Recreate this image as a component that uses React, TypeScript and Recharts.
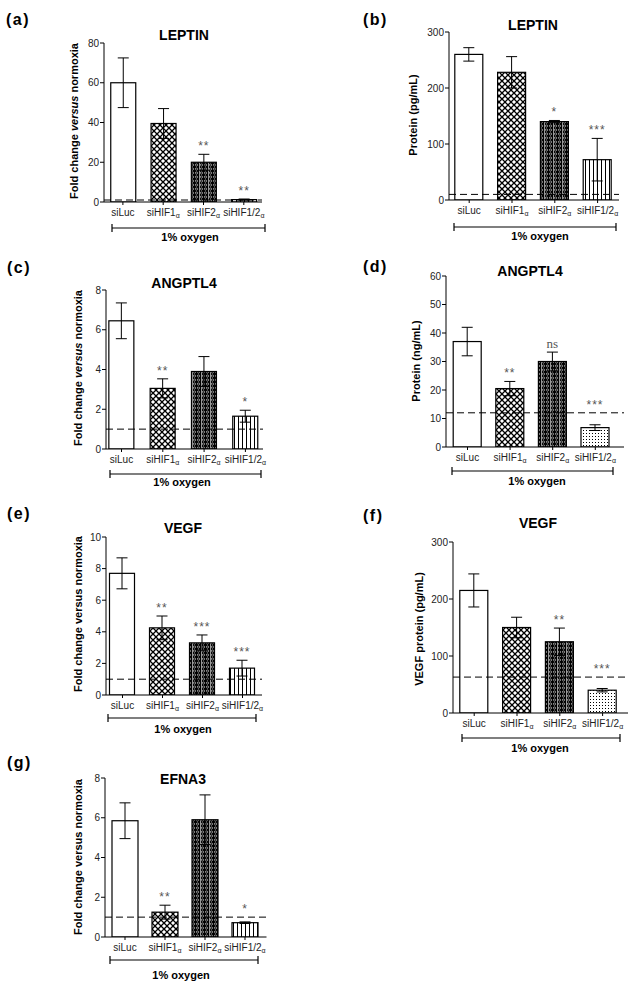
import React from "react";
import { BarChart, Bar, XAxis, YAxis, ErrorBar, ReferenceLine, Cell } from "recharts";

const FONT = "Liberation Sans, Arial, sans-serif";

// categories (alpha is drawn as a subscript after all but siLuc)
const categories = ["siLuc", "siHIF1", "siHIF2", "siHIF1/2"];

// (a) LEPTIN mRNA
const leptinFold = [60, 39.5, 20, 1.2];
const leptinFoldErr = [12.5, 7.5, 4, 0.3];
const leptinFoldSig = ["", "", "**", "**"];

// (b) LEPTIN protein
const leptinProtein = [260, 228, 140, 72];
const leptinProteinErr = [12, 28, 2, 38];
const leptinProteinSig = ["", "", "*", "***"];

// (c) ANGPTL4 mRNA
const angptlFold = [6.45, 3.05, 3.9, 1.65];
const angptlFoldErr = [0.9, 0.48, 0.75, 0.3];
const angptlFoldSig = ["", "**", "", "*"];

// (d) ANGPTL4 protein
const angptlProtein = [37, 20.5, 30, 6.8];
const angptlProteinErr = [5, 2.5, 3.3, 1];
const angptlProteinSig = ["", "**", "ns", "***"];

// (e) VEGF mRNA
const vegfFold = [7.7, 4.25, 3.3, 1.7];
const vegfFoldErr = [0.98, 0.75, 0.5, 0.5];
const vegfFoldSig = ["", "**", "***", "***"];

// (f) VEGF protein
const vegfProtein = [215, 150, 125, 40];
const vegfProteinErr = [29, 18, 24, 3];
const vegfProteinSig = ["", "", "**", "***"];

// (g) EFNA3 mRNA
const efnaFold = [5.85, 1.25, 5.9, 0.72];
const efnaFoldErr = [0.9, 0.35, 1.25, 0.04];
const efnaFoldSig = ["", "**", "", "*"];

const makeRows = (values: number[], errors: number[], sig: string[]) =>
  categories.map((name, i) => ({ pos: i, name, value: values[i], err: errors[i], sig: sig[i] }));

const fillsLines = ["#fff", "url(#cross)", "url(#dense)", "url(#vlines)"];
const fillsDots = ["#fff", "url(#cross)", "url(#dense)", "url(#dots)"];

const panels = [
  { id: "a", rows: makeRows(leptinFold, leptinFoldErr, leptinFoldSig), ref: 1, yMax: 80, yTicks: [0, 20, 40, 60, 80],
    axisX: 104, plotRight: 262, c0: 122.9, step: 40.3, barW: 25, yTop: 43, yBot: 202, fills: fillsLines },
  { id: "b", rows: makeRows(leptinProtein, leptinProteinErr, leptinProteinSig), ref: 10, yMax: 300, yTicks: [0, 100, 200, 300],
    axisX: 449, plotRight: 619, c0: 469.2, step: 42.8, barW: 28, yTop: 32, yBot: 200, fills: fillsLines },
  { id: "c", rows: makeRows(angptlFold, angptlFoldErr, angptlFoldSig), ref: 1, yMax: 8, yTicks: [0, 2, 4, 6, 8],
    axisX: 106, plotRight: 263, c0: 121.5, step: 41.3, barW: 25, yTop: 290, yBot: 449, fills: fillsLines },
  { id: "d", rows: makeRows(angptlProtein, angptlProteinErr, angptlProteinSig), ref: 12, yMax: 60, yTicks: [0, 10, 20, 30, 40, 50, 60],
    axisX: 446, plotRight: 624, c0: 467.5, step: 42.6, barW: 28, yTop: 276, yBot: 447, fills: fillsDots },
  { id: "e", rows: makeRows(vegfFold, vegfFoldErr, vegfFoldSig), ref: 1, yMax: 10, yTicks: [0, 2, 4, 6, 8, 10],
    axisX: 106, plotRight: 262, c0: 122.5, step: 40, barW: 25, yTop: 537, yBot: 695, fills: fillsLines },
  { id: "f", rows: makeRows(vegfProtein, vegfProteinErr, vegfProteinSig), ref: 63, yMax: 300, yTicks: [0, 100, 200, 300],
    axisX: 453, plotRight: 628, c0: 474.2, step: 42.8, barW: 28, yTop: 542, yBot: 713, fills: fillsDots },
  { id: "g", rows: makeRows(efnaFold, efnaFoldErr, efnaFoldSig), ref: 1, yMax: 8, yTicks: [0, 2, 4, 6, 8],
    axisX: 104.5, plotRight: 266, c0: 124.5, step: 40, barW: 26, yTop: 778, yBot: 937, fills: fillsLines },
];

const letters = [
  { t: "(a)", x: 6, y: 25 }, { t: "(b)", x: 363, y: 25 }, { t: "(c)", x: 7, y: 273 },
  { t: "(d)", x: 363, y: 272 }, { t: "(e)", x: 7, y: 519 }, { t: "(f)", x: 363, y: 521 }, { t: "(g)", x: 7, y: 768 },
];

const titles = [
  { t: "LEPTIN", x: 184, y: 40 }, { t: "LEPTIN", x: 533, y: 30 }, { t: "ANGPTL4", x: 184, y: 288 },
  { t: "ANGPTL4", x: 530, y: 276 }, { t: "VEGF", x: 183, y: 533 }, { t: "VEGF", x: 538, y: 528 }, { t: "EFNA3", x: 183, y: 784 },
];

const yLabels = [
  { kind: "fold", italic: true, x: 78, y: 121 },
  { kind: "Protein (pg/mL)", x: 417, y: 115 },
  { kind: "fold", italic: true, x: 82, y: 368 },
  { kind: "Protein (ng/mL)", x: 420, y: 361 },
  { kind: "fold", italic: false, x: 82, y: 614 },
  { kind: "VEGF protein (pg/mL)", x: 423, y: 629 },
  { kind: "fold", italic: false, x: 82, y: 857 },
];

const brackets = [
  { x1: 112, x2: 265, y: 228, cx: 190, ty: 241 },
  { x1: 454, x2: 616, y: 227, cx: 540, ty: 240 },
  { x1: 110, x2: 261, y: 474, cx: 182, ty: 486 },
  { x1: 452, x2: 613, y: 471, cx: 537, ty: 485 },
  { x1: 108, x2: 256, y: 718, cx: 183, ty: 733 },
  { x1: 462, x2: 620, y: 738, cx: 540, ty: 752 },
  { x1: 110, x2: 258, y: 960, cx: 181, ty: 979 },
];

const XTick = (props: any) => {
  const { x, y, payload } = props;
  const label = categories[payload.value];
  if (label === undefined) return null;
  return (
    <text x={x} y={y + 9} textAnchor="middle" fontSize={10} fill="#222" fontFamily={FONT}>
      {label}
      {label !== "siLuc" && (
        <tspan fontSize={7} dy={2}>α</tspan>
      )}
    </text>
  );
};

const makeShape = (refValue: number) => (props: any) => {
  const { x, y, width, height, fill, payload } = props;
  const perUnit = payload.value ? height / payload.value : 0;
  const anchorVal = Math.max(payload.value + payload.err, payload.sig === "" ? 0 : refValue);
  const anchorY = y + height - anchorVal * perUnit;
  const isNs = payload.sig === "ns";
  return (
    <g>
      <rect x={x} y={y} width={width} height={height} fill={fill} stroke="#000" strokeWidth={1.2} />
      {payload.sig && (
        <text
          x={x + width / 2}
          y={anchorY - 4}
          textAnchor="middle"
          fontSize={isNs ? 13 : 12}
          fill="#555"
          fontFamily={isNs ? "Liberation Serif, Times New Roman, serif" : FONT}
          letterSpacing={isNs ? 0 : 1}
        >
          {payload.sig}
        </text>
      )}
    </g>
  );
};

function Panel({ spec }: { spec: any }) {
  const YW = 40;
  const MT = 20;
  const MR = 14;
  const XH = 30;
  const plotW = spec.plotRight - spec.axisX;
  const plotH = spec.yBot - spec.yTop;
  const W = YW + plotW + MR;
  const H = MT + plotH + XH;
  const lo = (spec.axisX - spec.c0) / spec.step;
  const hi = (spec.plotRight - spec.c0) / spec.step;
  return (
    <div style={{ position: "absolute", left: spec.axisX - YW, top: spec.yTop - MT }}>
      <BarChart
        width={W}
        height={H}
        data={spec.rows}
        margin={{ top: MT, right: MR, bottom: 0, left: 0 }}
      >
        <XAxis
          dataKey="pos"
          type="number"
          scale="linear"
          domain={[lo, hi]}
          ticks={[0, 1, 2, 3]}
          allowDataOverflow
          height={XH}
          tickSize={3}
          stroke="#000"
          tick={<XTick />}
          interval={0}
        />
        <YAxis
          width={YW}
          domain={[0, spec.yMax]}
          ticks={spec.yTicks}
          allowDataOverflow
          tickSize={4}
          tickMargin={1}
          stroke="#000"
          tick={{ fontSize: 10, fill: "#222", fontFamily: FONT }}
          interval={0}
        />
        <Bar dataKey="value" barSize={spec.barW} isAnimationActive={false} shape={makeShape(spec.ref)}>
          {spec.rows.map((r: any, i: number) => (
            <Cell key={r.name} fill={spec.fills[i]} />
          ))}
          <ErrorBar dataKey="err" width={5.5} stroke="#000" strokeWidth={1} isAnimationActive={false} />
        </Bar>
        <ReferenceLine y={spec.ref} stroke="#000" strokeWidth={1} strokeDasharray="7 4" />
      </BarChart>
    </div>
  );
}

export default function App() {
  return (
    <div style={{ position: "absolute", left: 0, top: 0, width: 635, height: 986, background: "#fff", fontFamily: FONT }}>
      <svg width={0} height={0} style={{ position: "absolute" }}>
        <defs>
          <pattern id="cross" patternUnits="userSpaceOnUse" width={6} height={6}>
            <rect width={6} height={6} fill="#fff" />
            <path d="M0 0 L6 6 M6 0 L0 6" stroke="#000" strokeWidth={1.3} />
          </pattern>
          <pattern id="dense" patternUnits="userSpaceOnUse" width={9} height={4}>
            <rect width={9} height={4} fill="#000" />
            <path d="M2.5 0.7 L3.8 2 L2.5 3.3 L1.2 2 Z M6.5 0.7 L7.8 2 L6.5 3.3 L5.2 2 Z" fill="none" stroke="#fff" strokeWidth={0.6} />
            <rect x={0} y={0} width={0.6} height={4} fill="#fff" />
          </pattern>
          <pattern id="vlines" patternUnits="userSpaceOnUse" width={4} height={4}>
            <rect width={4} height={4} fill="#fff" />
            <rect x={0} y={0} width={1} height={4} fill="#000" />
          </pattern>
          <pattern id="dots" patternUnits="userSpaceOnUse" width={3} height={3}>
            <rect width={3} height={3} fill="#fff" />
            <rect x={0} y={0} width={1} height={1} fill="#000" />
          </pattern>
        </defs>
      </svg>

      {panels.map((p) => (
        <Panel key={p.id} spec={p} />
      ))}

      <svg width={635} height={986} style={{ position: "absolute", left: 0, top: 0, pointerEvents: "none" }}>
        {letters.map((l) => (
          <text key={l.t} x={l.x} y={l.y} fontSize={16} fontWeight="bold" letterSpacing={1.5} fontFamily={FONT}>
            {l.t}
          </text>
        ))}
        {titles.map((t, i) => (
          <text key={i} x={t.x} y={t.y} fontSize={14} fontWeight="bold" textAnchor="middle" fontFamily={FONT}>
            {t.t}
          </text>
        ))}
        {yLabels.map((l, i) => (
          <text
            key={i}
            transform={`translate(${l.x},${l.y}) rotate(-90)`}
            fontSize={11}
            fontWeight="bold"
            textAnchor="middle"
            fontFamily={FONT}
          >
            {l.kind === "fold" ? (
              <>
                Fold change{" "}
                <tspan fontStyle={l.italic ? "italic" : "normal"}>versus</tspan> normoxia
              </>
            ) : (
              l.kind
            )}
          </text>
        ))}
        {brackets.map((b, i) => (
          <g key={i}>
            <line x1={b.x1} x2={b.x2} y1={b.y} y2={b.y} stroke="#000" strokeWidth={1.2} />
            <line x1={b.x1} x2={b.x1} y1={b.y - 4} y2={b.y + 4} stroke="#000" strokeWidth={1.2} />
            <line x1={b.x2} x2={b.x2} y1={b.y - 4} y2={b.y + 4} stroke="#000" strokeWidth={1.2} />
            <text x={b.cx} y={b.ty} fontSize={11} fontWeight="bold" textAnchor="middle" fontFamily={FONT}>
              1% oxygen
            </text>
          </g>
        ))}
      </svg>
    </div>
  );
}
